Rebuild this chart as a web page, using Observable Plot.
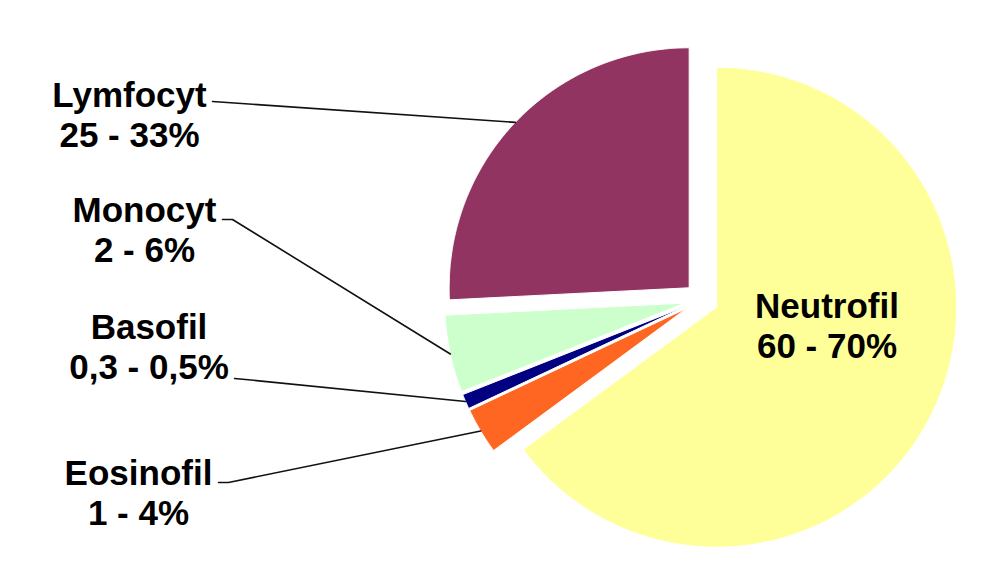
<!DOCTYPE html>
<html><head><meta charset="utf-8">
<script src="https://cdn.jsdelivr.net/npm/d3@7"></script>
<script src="https://cdn.jsdelivr.net/npm/@observablehq/plot@0.6"></script>
<style>body{margin:0;background:#fff}</style>
</head><body><div id="chart"></div>
<script>
// ---- data ----
const categories = ["Neutrofil", "Eosinofil", "Basofil", "Monocyt", "Lymfocyt"];
const values = [64.9, 3.1, 1.0, 5.2, 25.8];
const ranges = ["60 - 70%", "1 - 4%", "0,3 - 0,5%", "2 - 6%", "25 - 33%"];
const colors = ["#FFFF99", "#FF6622", "#000080", "#CCFFCC", "#923461"];

// ---- layout ----
const W = 984, H = 582;
const center = [701, 299], R = 240, explode = 17;
// label anchor (centre of text block) and leader start/elbow, in the plot's own x/y units
const labelLayout = {
  Neutrofil: {x: 826.5, y: 324.5, leader: null},
  Eosinofil: {x: 138, y: 491.5, leader: [[218, 482], [228, 482]]},
  Basofil:   {x: 148.5, y: 345.5, leader: [[234, 378], [245, 379]]},
  Monocyt:   {x: 144, y: 228.5, leader: [[222, 219], [232, 219]]},
  Lymfocyt:  {x: 129, y: 113.5, leader: [[212, 101]]}
};

const total = d3.sum(values);
let acc = 0;
const slices = categories.map((c, i) => {
  const a0 = acc / total * 2 * Math.PI;
  acc += values[i];
  const a1 = acc / total * 2 * Math.PI;
  const mid = (a0 + a1) / 2;
  return {name: c, a0, a1, mid,
    cx: center[0] + explode * Math.sin(mid),
    cy: center[1] - explode * Math.cos(mid)};
});

const poly = [];
for (const s of slices) {
  poly.push({name: s.name, x: s.cx, y: s.cy});
  const n = Math.max(2, Math.ceil((s.a1 - s.a0) / (Math.PI / 720)));
  for (let k = 0; k <= n; k++) {
    const a = s.a0 + (s.a1 - s.a0) * k / n;
    poly.push({name: s.name, x: s.cx + R * Math.sin(a), y: s.cy - R * Math.cos(a)});
  }
  poly.push({name: s.name, x: s.cx, y: s.cy});
}

const leaders = [];
for (const s of slices) {
  const L = labelLayout[s.name];
  if (!L.leader) continue;
  for (const p of L.leader) leaders.push({name: s.name, x: p[0], y: p[1]});
  leaders.push({name: s.name, x: s.cx + R * Math.sin(s.mid), y: s.cy - R * Math.cos(s.mid)});
}

const labels = categories.map((c, i) => ({
  name: c, text: c + "\n" + ranges[i], x: labelLayout[c].x, y: labelLayout[c].y
}));

const chart = Plot.plot({
  width: W, height: H, margin: 0,
  x: {domain: [0, W], range: [0, W], axis: null},
  y: {domain: [0, H], range: [0, H], axis: null},
  color: {domain: categories, range: colors},
  style: {background: "#fff"},
  marks: [
    Plot.line(poly, {x: "x", y: "y", z: "name", fill: "name", stroke: "white", strokeWidth: 1, curve: "linear"}),
    Plot.line(leaders, {x: "x", y: "y", z: "name", stroke: "#111", strokeWidth: 1.6}),
    Plot.text(labels, {x: "x", y: "y", text: "text", fontSize: 35, fontWeight: "bold",
      fontFamily: "'Liberation Sans', Arial, sans-serif", lineHeight: 1.14,
      textAnchor: "middle", fill: "#000"})
  ]
});
document.getElementById("chart").append(chart);
</script>
</body></html>
